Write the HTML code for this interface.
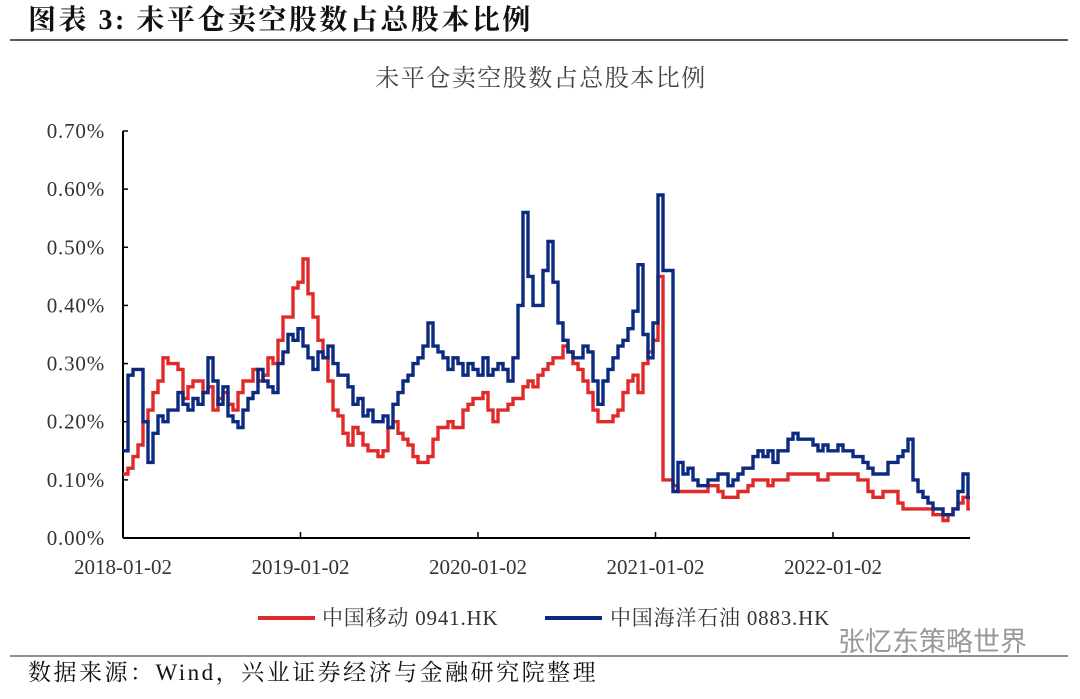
<!DOCTYPE html>
<html><head><meta charset="utf-8"><style>
body{margin:0;width:1080px;height:694px;background:#fff;overflow:hidden;font-family:"Liberation Serif","Noto Serif CJK SC",serif;}
</style></head><body>
<svg width="1080" height="694" viewBox="0 0 1080 694" xmlns="http://www.w3.org/2000/svg">
<text x="28" y="29" font-size="28" font-weight="bold" fill="#111" letter-spacing="2.5" font-family="Liberation Serif, Noto Serif CJK SC, serif">图表 3:  未平仓卖空股数占总股本比例</text>
<line x1="10" y1="40" x2="1068" y2="40" stroke="#222" stroke-width="1.5"/>
<text x="541" y="86" font-size="24" fill="#444" letter-spacing="1.5" text-anchor="middle" font-family="Noto Serif CJK SC, serif">未平仓卖空股数占总股本比例</text>
<g id="axes"></g>
<g id="series"></g>
<line x1="258" y1="618" x2="315" y2="618" stroke="#e02a2a" stroke-width="4"/>
<text x="322" y="625" font-size="21" fill="#333" letter-spacing="0.8">中国移动 0941.HK</text>
<line x1="545" y1="618" x2="602" y2="618" stroke="#0b2a80" stroke-width="4"/>
<text x="610" y="625" font-size="21" fill="#333" letter-spacing="0.8">中国海洋石油 0883.HK</text>
<text x="838" y="651" font-size="27" fill="#999" font-family="Noto Sans CJK SC, sans-serif">张忆东策略世界</text>
<line x1="10" y1="656" x2="1068" y2="656" stroke="#222" stroke-width="1"/>
<text x="28" y="680" font-size="23" fill="#111" letter-spacing="2.5">数据来源：Wind，兴业证券经济与金融研究院整理</text>
</svg>
<script>
const startYear = 2018;            // first observation 2018-01-02
const stepYears = 0.02817;         // ~10.3 days between observations
const yTicks = [0,0.1,0.2,0.3,0.4,0.5,0.6,0.7];
const yTickLabels = ["0.00%","0.10%","0.20%","0.30%","0.40%","0.50%","0.60%","0.70%"];
const xTicks = [0,1,2,3,4];
const xTickLabels = ["2018-01-02","2019-01-02","2020-01-02","2021-01-02","2022-01-02"];
const chinaMobile = [.11,.12,.14,.16,.20,.22,.25,.27,.31,.30,.30,.29,.24,.26,.27,.27,.25,.26,.22,.24,.25,.23,.22,.25,.27,.27,.29,.27,.28,.31,.30,.34,.38,.38,.43,.44,.48,.42,.38,.34,.31,.27,.22,.21,.18,.16,.19,.18,.16,.15,.15,.14,.15,.19,.20,.18,.17,.16,.14,.13,.13,.14,.17,.19,.19,.20,.19,.19,.22,.23,.24,.24,.25,.22,.20,.22,.22,.23,.24,.24,.26,.27,.26,.28,.29,.30,.31,.31,.33,.32,.30,.29,.27,.25,.22,.20,.20,.20,.21,.22,.25,.27,.28,.25,.30,.32,.34,.45,.10,.10,.09,.08,.08,.08,.08,.08,.08,.09,.09,.08,.07,.07,.07,.08,.08,.09,.10,.10,.10,.09,.10,.10,.10,.11,.11,.11,.11,.11,.11,.10,.10,.11,.11,.11,.11,.11,.11,.10,.10,.08,.07,.07,.08,.08,.08,.06,.05,.05,.05,.05,.05,.05,.04,.04,.03,.04,.05,.06,.07,.05];
const cnooc = [.15,.28,.29,.29,.20,.13,.18,.21,.20,.22,.22,.25,.23,.22,.24,.23,.25,.31,.27,.23,.26,.21,.20,.19,.22,.24,.25,.29,.27,.26,.25,.30,.32,.35,.34,.36,.33,.31,.29,.32,.31,.33,.30,.28,.28,.26,.23,.24,.21,.22,.20,.20,.21,.19,.23,.25,.27,.28,.30,.31,.33,.37,.33,.32,.31,.29,.31,.30,.28,.30,.29,.28,.31,.28,.29,.30,.29,.27,.31,.40,.56,.45,.40,.40,.46,.51,.44,.37,.34,.32,.31,.31,.33,.32,.27,.23,.27,.29,.31,.33,.34,.36,.39,.47,.35,.31,.37,.59,.46,.46,.08,.13,.11,.12,.10,.09,.09,.10,.10,.11,.11,.09,.10,.11,.12,.12,.14,.15,.14,.15,.13,.15,.15,.17,.18,.17,.17,.17,.16,.15,.16,.15,.15,.16,.15,.15,.14,.14,.13,.12,.11,.11,.11,.13,.13,.14,.15,.17,.10,.08,.07,.06,.05,.05,.04,.04,.05,.08,.11,.07];

const X0=123, X1=970, Y0=538, Y1=131;
const pxPerYear = 177.5;
const xScale = t => X0 + t*pxPerYear;
const yScale = v => Y0 - (v/0.7)*(Y0-Y1);
const NS="http://www.w3.org/2000/svg";
const axes=document.getElementById('axes'), series=document.getElementById('series');
function mk(tag, attrs, parent){const e=document.createElementNS(NS,tag);for(const k in attrs)e.setAttribute(k,attrs[k]);parent.appendChild(e);return e;}

const yAxis=mk('line',{x1:X0,y1:Y1,x2:X0,y2:Y0,stroke:'#000','stroke-width':2},axes);


const xAxis=mk('line',{x1:X0,y1:Y0,x2:X1,y2:Y0,stroke:'#000','stroke-width':2},axes);


yTicks.forEach((v,i)=>{
  const y=yScale(v);
  const tk=mk('line',{x1:X0,y1:y,x2:X0+5,y2:y,stroke:'#000','stroke-width':1.5},axes);
  
  
  const t=mk('text',{x:105,y:y+7,'font-size':21,'letter-spacing':0.8,'text-anchor':'end',fill:'#333'},axes);
  t.textContent=yTickLabels[i];
  
  
});
xTicks.forEach((v,i)=>{
  const x=xScale(v);
  const tk=mk('line',{x1:x,y1:Y0,x2:x,y2:Y0-6,stroke:'#000','stroke-width':1.5},axes);
  
  
  const t=mk('text',{x:x,y:574,'font-size':21,'text-anchor':'middle',fill:'#333'},axes);
  t.textContent=xTickLabels[i];
  
  
});
function draw(vals,color,name){
  let d='';
  vals.forEach((v,i)=>{
    const x=xScale(i*stepYears).toFixed(1), y=yScale(v).toFixed(1);
    d += i===0 ? 'M'+x+','+y : 'H'+x+'V'+y;
  });
  d += 'H'+xScale(vals.length*stepYears - stepYears*0.6).toFixed(1);
  const p=mk('path',{d:d,fill:'none',stroke:color,'stroke-width':3.4,'stroke-linejoin':'miter'},series);
  
  
}
draw(chinaMobile,'#e02a2a','line-china-mobile');
draw(cnooc,'#0b2a80','line-cnooc');
</script>
</body></html>
